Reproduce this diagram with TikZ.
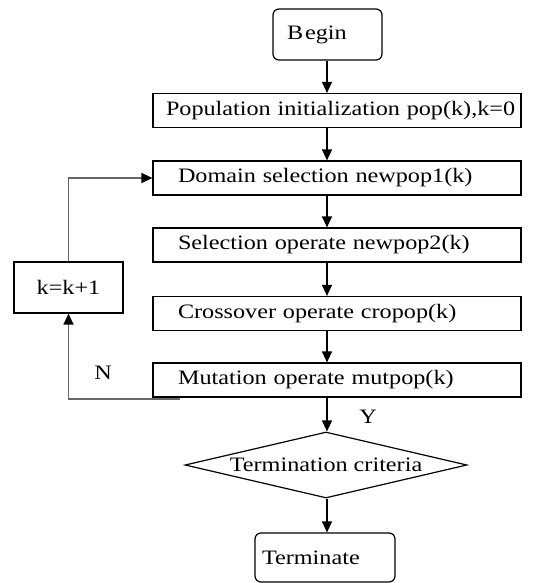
\documentclass[tikz,border=0pt]{standalone}
\usepackage{fontspec}
\setmainfont{Liberation Serif}[FakeStretch=1.18]
\usetikzlibrary{arrows.meta,shapes.geometric}
\begin{document}
\begin{tikzpicture}[x=1pt,y=-1pt,
  every node/.style={font=\fontsize{20.5}{24}\selectfont},
  box/.style={draw, line width=1.2pt, minimum height=34pt, inner ysep=0pt},
  wbox/.style={box, minimum width=368pt, text width=318pt, inner xsep=25pt, align=left},
  term/.style={draw, line width=1.2pt, rounded corners=6pt, inner sep=0pt},
  dec/.style={draw, line width=1.2pt, diamond, aspect=4.27, inner sep=0pt, minimum width=282pt, minimum height=66pt},
  arr/.style={line width=1.3pt, -{Triangle[length=11pt,width=10pt]}},
  loop/.style={line width=1.4pt, draw=black!60, -{Triangle[length=11pt,width=10pt,color=black]}},
  lbl/.style={inner sep=0pt}
]
\useasboundingbox (0,0) rectangle (533,583);
\node[term, minimum width=109pt, minimum height=51pt, text width=93pt, align=left] (begin) at (327.5,34.5) {\kern6pt B\kern2pt egin};
\node[box, minimum width=368pt, text width=342pt, inner xsep=13pt, align=left] (pop) at (337,110.5) {\mbox{Population initialization pop(k),k=0}};
\node[wbox] (dom) at (337,178) {Domain selection newpop1(k)};
\node[wbox] (sel) at (337,245) {Selection operate newpop2(k)};
\node[wbox] (cro) at (337,313.5) {Crossover operate cropop(k)};
\node[wbox] (mut) at (337,380) {Mutation operate mutpop(k)};
\node[box, minimum width=109pt, minimum height=51pt] (k) at (68.5,287.5) {k=k+1};
\node[dec] (crit) at (326,465) {Termination criteria};
\node[term, minimum width=140pt, minimum height=49pt, text width=126pt, align=left] (end) at (325,557.5) {Terminate};
\coordinate (ls) at (180,399);
\node[lbl] (nl) at (103,373) {N};
\node[lbl] (yl) at (368,417) {Y};
\draw[arr] (begin.south -| 327,0) -- (pop.north -| 327,0);
\draw[arr] (pop.south -| 327,0) -- (dom.north -| 327,0);
\draw[arr] (dom.south -| 327,0) -- (sel.north -| 327,0);
\draw[arr] (sel.south -| 327,0) -- (cro.north -| 327,0);
\draw[arr] (cro.south -| 327,0) -- (mut.north -| 327,0);
\draw[arr] (mut.south -| 327,0) -- (crit.north -| 327,0);
\draw[arr] (crit.south -| 327,0) -- (end.north -| 327,0);
\draw[loop] (ls) -| (k.south);
\draw[loop] (k.north) |- (dom.west);
\end{tikzpicture}
\end{document}
